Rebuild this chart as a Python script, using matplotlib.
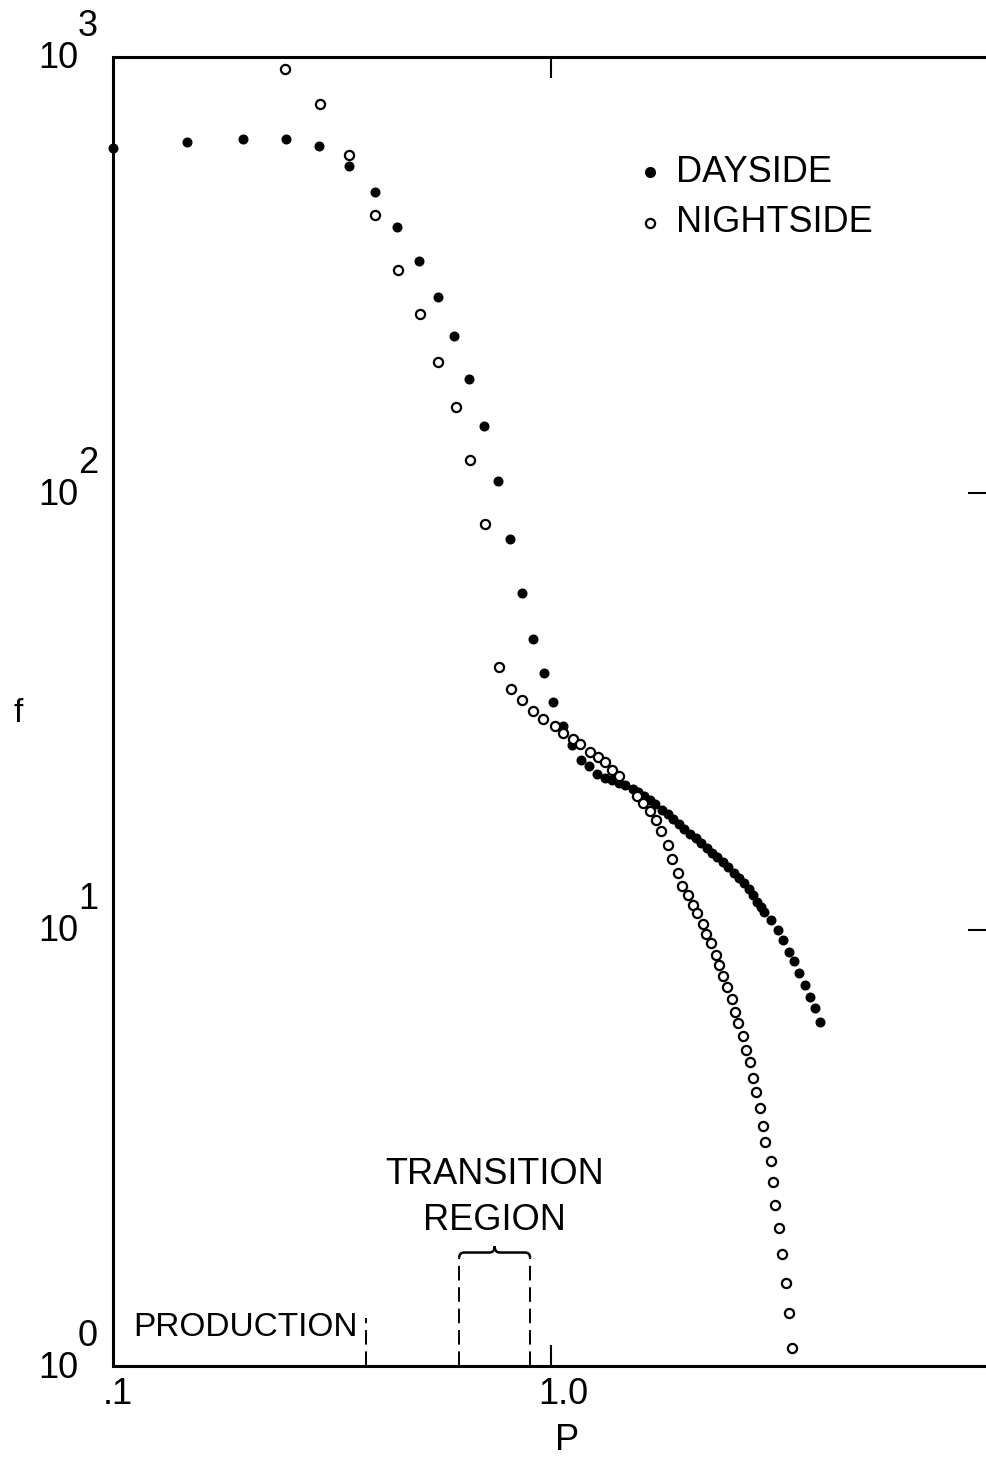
import numpy as np
import matplotlib
matplotlib.use("Agg")
import matplotlib.pyplot as plt
from matplotlib.path import Path
from matplotlib.patches import PathPatch

# dayside points (filled)
day_p = [0.100, 0.1475, 0.198, 0.248, 0.295, 0.346, 0.397, 0.446, 0.500, 0.552,
         0.600, 0.649, 0.704, 0.755, 0.807, 0.857, 0.910, 0.962, 1.012, 1.067,
         1.117, 1.169, 1.223, 1.272, 1.325, 1.376, 1.426, 1.477, 1.535, 1.576,
         1.628, 1.679, 1.729, 1.791, 1.845, 1.899, 1.957, 2.016, 2.077, 2.140,
         2.200, 2.267, 2.335, 2.397, 2.466, 2.540, 2.617, 2.691, 2.758, 2.828,
         2.888, 2.949, 3.012, 3.069, 3.184, 3.293, 3.386, 3.494, 3.587, 3.689,
         3.801, 3.908, 4.012, 4.107]
day_f = [619, 639, 649, 649, 626, 563, 491, 407, 340, 282,
         229, 183, 142.5, 107, 78.5, 59.1, 46.3, 38.7, 33.2, 29.3,
         26.5, 24.5, 23.7, 22.7, 22.3, 22.0, 21.7, 21.4, 21.0, 20.7,
         20.2, 19.8, 19.4, 18.8, 18.4, 17.9, 17.5, 17.0, 16.6, 16.2,
         15.8, 15.4, 15.0, 14.7, 14.3, 13.9, 13.5, 13.1, 12.8, 12.4,
         12.0, 11.6, 11.3, 11.0, 10.5, 10.0, 9.47, 8.89, 8.48, 7.97,
         7.48, 7.02, 6.60, 6.13]

# nightside points (open)
night_p = [0.247, 0.297, 0.346, 0.397, 0.447, 0.501, 0.553, 0.606, 0.653, 0.707,
           0.762, 0.810, 0.860, 0.912, 0.961, 1.021, 1.067, 1.121, 1.166, 1.226,
           1.279, 1.327, 1.380, 1.431, 1.572, 1.625, 1.683, 1.740, 1.786, 1.845,
           1.889, 1.952, 1.994, 2.054, 2.106, 2.154, 2.220, 2.259, 2.319, 2.377,
           2.419, 2.474, 2.522, 2.583, 2.631, 2.666, 2.737, 2.792, 2.841, 2.897,
           2.943, 3.001, 3.053, 3.086, 3.174, 3.212, 3.246, 3.315, 3.362, 3.434,
           3.489, 3.544]
night_f = [939, 781, 597, 435, 325, 257, 200, 158, 119, 85.1,
           40.0, 35.6, 33.6, 31.7, 30.4, 29.3, 28.3, 27.3, 26.7, 25.6,
           24.9, 24.2, 23.2, 22.5, 20.2, 19.5, 18.7, 17.8, 16.8, 15.6,
           14.5, 13.5, 12.6, 12.0, 11.4, 10.9, 10.3, 9.77, 9.31, 8.76,
           8.30, 7.83, 7.38, 6.94, 6.49, 6.12, 5.70, 5.31, 4.97, 4.57,
           4.25, 3.90, 3.54, 3.26, 2.955, 2.636, 2.339, 2.068, 1.806, 1.552,
           1.325, 1.101]

# region boundaries
production_edge = 0.378
transition_lo = 0.617
transition_hi = 0.896

plt.rcParams['font.family'] = ['Liberation Sans', 'DejaVu Sans']

W, H = 987, 1459
fig = plt.figure(figsize=(W / 100, H / 100), dpi=100)
ax = fig.add_axes([113 / W, (H - 1366) / H, 876 / W, 1309 / H])
ax.set_xscale('log')
ax.set_yscale('log')
ax.set_xlim(0.1, 10)
ax.set_ylim(1, 1000)

for s in ax.spines.values():
    s.set_linewidth(2.2)

ax.xaxis.set_minor_locator(matplotlib.ticker.NullLocator())
ax.yaxis.set_minor_locator(matplotlib.ticker.NullLocator())
ax.set_xticks([1.0])
ax.set_yticks([10, 100])
ax.tick_params(axis='x', which='major', direction='in', length=15, width=1.5,
               top=True, bottom=True, labelbottom=False)
ax.tick_params(axis='y', which='major', direction='in', length=15, width=1.5,
               left=False, right=True, labelleft=False)

ax.plot(day_p, day_f, 'o', color='black', ms=6.2, clip_on=False, zorder=3)
ax.plot(night_p, night_f, 'o', mfc='white', mec='black', ms=6.6, mew=1.6,
        clip_on=False, zorder=4)

# dashed region markers
ax.plot([production_edge] * 2, [1, 1.29], color='black', lw=1.4,
        ls=(0, (7.5, 3.5)))
for xv in (transition_lo, transition_hi):
    ax.plot([xv] * 2, [1, 1.77], color='black', lw=1.4, ls=(0, (7.5, 3.5)))

# brace over transition region
xm = np.sqrt(transition_lo * transition_hi)
d = 10 ** 0.012
y0, y1, y2 = 1.77, 1.82, 1.88
verts = [(transition_lo, y0), (transition_lo, y1), (transition_lo * d, y1),
         (xm / d, y1), (xm, y1), (xm, y2), (xm, y1), (xm * d, y1),
         (transition_hi / d, y1), (transition_hi, y1), (transition_hi, y0)]
codes = [Path.MOVETO, Path.CURVE3, Path.CURVE3, Path.LINETO, Path.CURVE3,
         Path.CURVE3, Path.CURVE3, Path.CURVE3, Path.LINETO, Path.CURVE3,
         Path.CURVE3]
ax.add_patch(PathPatch(Path(verts, codes), fc='none', ec='black', lw=1.8))

fs = 26
ax.text(0.111, 1.228, 'PRODUCTION', fontsize=24, va='center', ha='left')
ax.text(xm, 2.74, 'TRANSITION', fontsize=fs, va='center', ha='center')
ax.text(xm, 2.16, 'REGION', fontsize=fs, va='center', ha='center')

# legend
ax.plot([1.68], [545], 'o', color='black', ms=7)
ax.plot([1.68], [417], 'o', mfc='white', mec='black', ms=6.6, mew=1.6)
ax.text(1.93, 545, 'DAYSIDE', fontsize=fs, va='center', ha='left')
ax.text(1.93, 417, 'NIGHTSIDE', fontsize=fs, va='center', ha='left')

# y labels as 10 with raised exponent
for val, exp in [(1, '0'), (10, '1'), (100, '2'), (1000, '3')]:
    ax.annotate('10', xy=(0, val), xycoords=('axes fraction', 'data'),
                xytext=(-55, -2), textcoords='offset pixels', fontsize=fs,
                ha='center', va='center', annotation_clip=False)
    ax.annotate(exp, xy=(0, val), xycoords=('axes fraction', 'data'),
                xytext=(-25, 30), textcoords='offset pixels', fontsize=fs,
                ha='center', va='center', annotation_clip=False)

# x labels
ax.annotate('.1', xy=(0.1, 0), xycoords=('data', 'axes fraction'),
            xytext=(5, -28), textcoords='offset pixels', fontsize=fs,
            ha='center', va='center', annotation_clip=False)
ax.annotate('1.0', xy=(1.0, 0), xycoords=('data', 'axes fraction'),
            xytext=(12, -28), textcoords='offset pixels', fontsize=fs,
            ha='center', va='center', annotation_clip=False)
ax.annotate('P', xy=(1.0, 0), xycoords=('data', 'axes fraction'),
            xytext=(16, -74), textcoords='offset pixels', fontsize=fs,
            ha='center', va='center', annotation_clip=False)
fig.text(18 / W, 1 - 713 / H, 'f', fontsize=24, ha='center', va='center')

fig.savefig('out.png', dpi=100)
